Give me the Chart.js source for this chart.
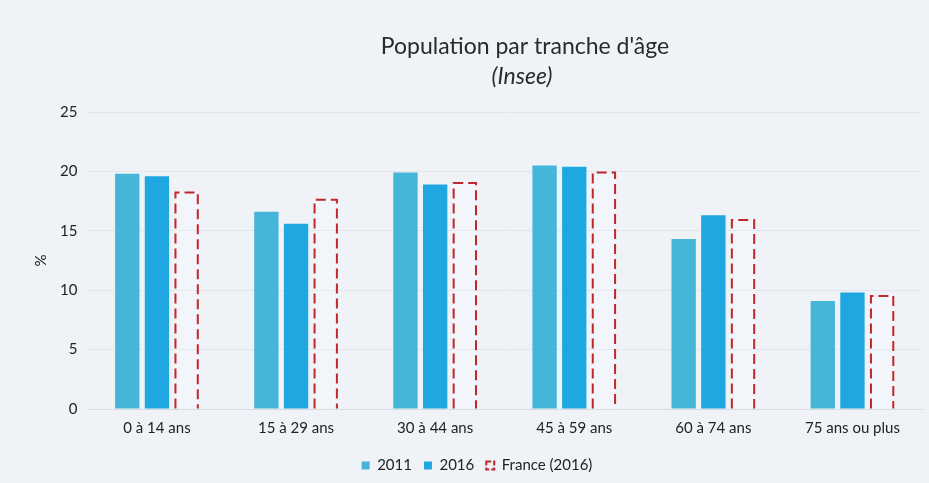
<!DOCTYPE html>
<html><head><meta charset="utf-8">
<script src="https://cdn.jsdelivr.net/npm/chart.js@4/dist/chart.umd.min.js"></script>
<style>
html,body{margin:0;padding:0;background:#eff3f8;}
#wrap{width:929px;height:483px;position:relative;}
</style></head>
<body><div id="wrap"><canvas id="c" width="929" height="483"></canvas></div>
<script>
const categories = ["0 à 14 ans","15 à 29 ans","30 à 44 ans","45 à 59 ans","60 à 74 ans","75 ans ou plus"];
const values2011 = [19.8, 16.6, 19.9, 20.5, 14.3, 9.1];
const values2016 = [19.6, 15.6, 18.9, 20.4, 16.3, 9.8];
const valuesFrance2016 = [18.3, 17.7, 19.1, 20.0, 16.0, 9.6];
const yTicks = [0, 5, 10, 15, 20, 25];
const titleText = "Population par tranche d'âge";
const subtitleText = "(Insee)";

const FONT = "Lato, 'Open Sans', sans-serif";
const RED = '#c0272d';
Chart.defaults.font.family = FONT;
Chart.defaults.color = "#222";

const headerPlugin = {
  id: 'header',
  afterDraw(chart) {
    const ctx = chart.ctx;
    ctx.save();
    ctx.fillStyle = '#2a2a2a';
    ctx.textAlign = 'center';
    ctx.textBaseline = 'middle';
    ctx.font = "23px " + FONT;
    ctx.fillText(titleText, 525, 47);
    ctx.font = "italic 23px " + FONT;
    ctx.fillText(subtitleText, 522, 77);
    ctx.restore();
  }
};

const dashedBarPlugin = {
  id: 'dashedBars',
  afterDatasetsDraw(chart) {
    const meta = chart.getDatasetMeta(2);
    const ctx = chart.ctx;
    ctx.save();
    ctx.strokeStyle = RED;
    ctx.lineWidth = 2;
    ctx.setLineDash([10, 5]);
    meta.data.forEach(bar => {
      const l = bar.x - bar.width / 2 + 1, r = bar.x + bar.width / 2 - 1;
      ctx.beginPath();
      ctx.moveTo(l, bar.base);
      ctx.lineTo(l, bar.y + 1);
      ctx.lineTo(r, bar.y + 1);
      ctx.lineTo(r, bar.base);
      ctx.stroke();
    });
    ctx.restore();
  }
};

new Chart(document.getElementById('c'), {
  type: 'bar',
  data: {
    labels: categories,
    datasets: [
      { label: '2011', data: values2011, backgroundColor: '#45b5d9', borderWidth: 0 },
      { label: '2016', data: values2016, backgroundColor: '#1fa7e1', borderWidth: 0 },
      { label: 'France (2016)', data: valuesFrance2016, backgroundColor: 'rgba(255,255,255,0.2)', borderWidth: 0 }
    ]
  },
  plugins: [headerPlugin, dashedBarPlugin],
  options: {
    responsive: false,
    animation: false,
    layout: { padding: { left: 32, right: 7, top: 112, bottom: 0 } },
    datasets: { bar: { categoryPercentage: 0.64, barPercentage: 0.82 } },
    plugins: {
      title: { display: false },
      legend: { position: 'bottom', labels: { boxWidth: 8, boxHeight: 8, font: { size: 15 }, padding: 12, color: '#222',
        generateLabels(chart) {
          const items = Chart.defaults.plugins.legend.labels.generateLabels(chart);
          items.forEach(it => {
            if (it.datasetIndex === 2) { it.lineWidth = 2; it.strokeStyle = RED; it.lineDash = [5, 2]; it.fillStyle = 'rgba(255,255,255,0)'; }
            else { it.lineWidth = 0; }
          });
          return items;
        } } },
      tooltip: { enabled: false }
    },
    scales: {
      x: { grid: { display: false }, border: { color: '#d8dce2' },
           afterFit(s) { s.height += 7; },
           ticks: { font: { size: 15 }, color: '#222', padding: 2 } },
      y: { min: 0, max: 25, afterBuildTicks(s) { s.ticks = yTicks.map(v => ({ value: v })); },
           grid: { color: '#e2e6ec', drawTicks: false }, border: { display: false },
           ticks: { font: { size: 15 }, color: '#222', padding: 10 },
           title: { display: true, text: '%', font: { size: 15 }, color: '#222', padding: { top: 0, bottom: 0 } } }
    }
  }
});
</script></body></html>
